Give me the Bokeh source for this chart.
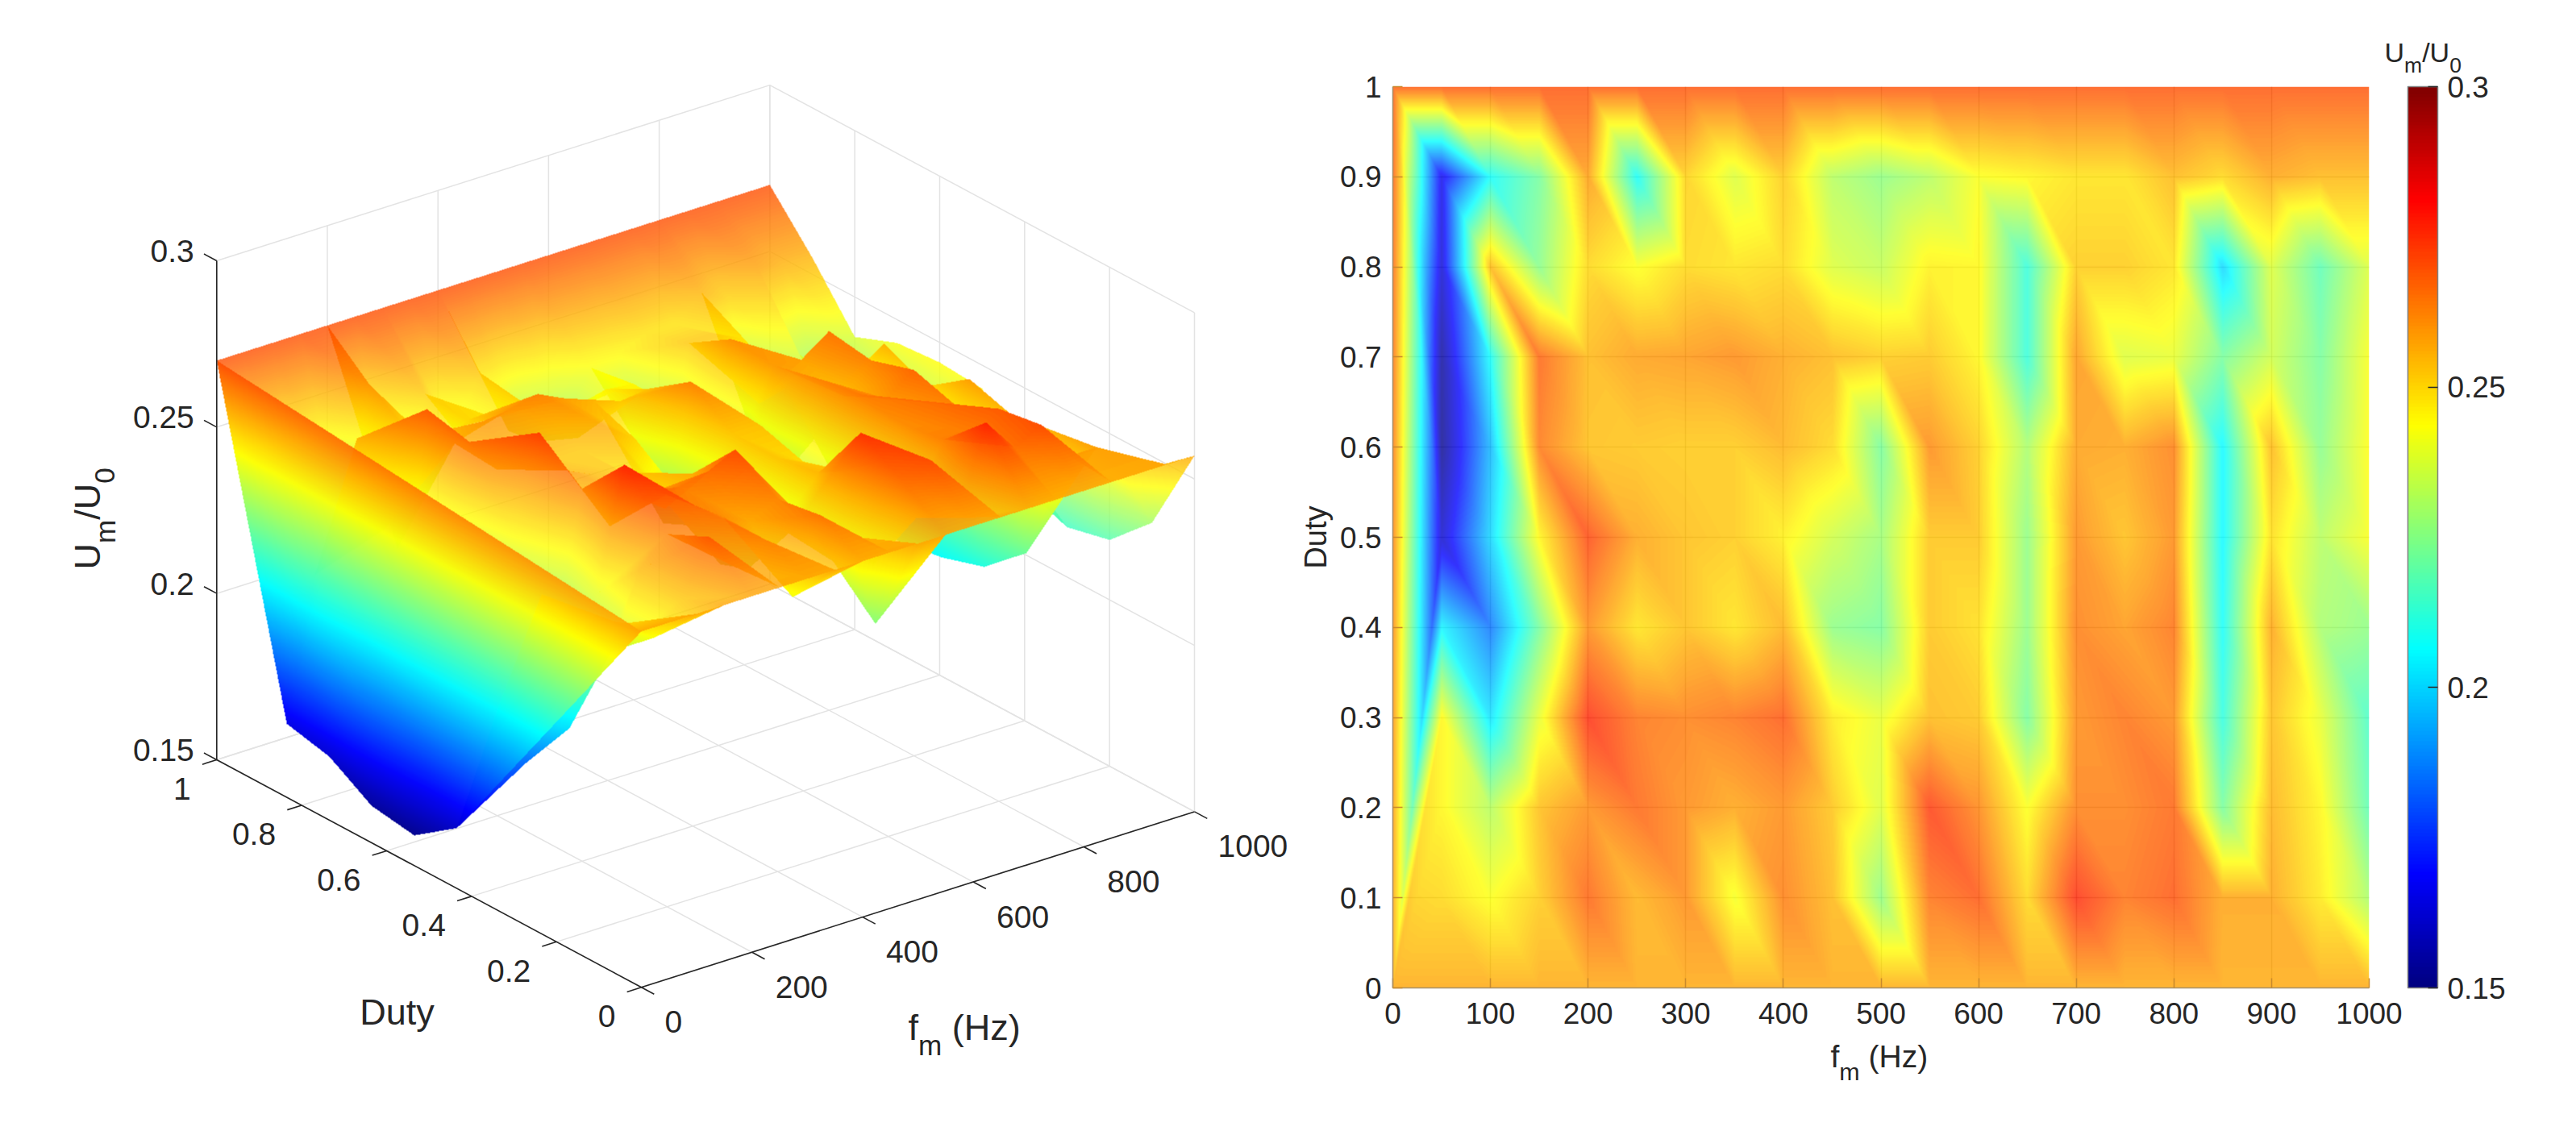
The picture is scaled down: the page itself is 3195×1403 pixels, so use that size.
# Um/U0 against modulation frequency and duty: 3D surface on the left, flat map on the right

import math
import numpy as np

from bokeh.embed import file_html
from bokeh.layouts import row
from bokeh.models import ColorBar, FixedTicker, Label, LinearColorMapper, Range1d
from bokeh.plotting import figure
from bokeh.resources import INLINE

# values
fm_hz = [50, 100, 150, 200, 250, 300, 350, 400, 450, 500,
         550, 600, 650, 700, 750, 800, 850, 900, 950, 1000]
duty = [0.0, 0.1, 0.2, 0.3, 0.4, 0.5, 0.6, 0.7, 0.8, 0.9, 1.0]

# at 0 Hz only the two corners exist
um_fm0_duty0 = 0.257
um_fm0_duty1 = 0.270

um_duty00 = [.257, .257, .257, .257, .257, .257, .257, .257, .257, .257,
             .257, .257, .257, .257, .257, .257, .257, .257, .257, .257]
um_duty01 = [.250, .243, .252, .268, .256, .262, .242, .264, .255, .226,
             .266, .270, .250, .276, .266, .270, .258, .258, .247, .230]
um_duty02 = [.245, .232, .254, .262, .268, .262, .258, .262, .253, .238,
             .274, .263, .243, .264, .264, .268, .222, .256, .245, .218]
um_duty03 = [.245, .202, .240, .276, .266, .264, .266, .270, .247, .240,
             .255, .253, .222, .262, .266, .262, .211, .254, .240, .215]
um_duty04 = [.205, .185, .222, .262, .248, .254, .248, .256, .226, .222,
             .253, .249, .226, .264, .260, .266, .207, .258, .230, .226]
um_duty05 = [.161, .200, .245, .272, .258, .254, .252, .246, .236, .228,
             .253, .253, .226, .262, .254, .262, .205, .249, .232, .243]
um_duty06 = [.152, .195, .265, .254, .253, .252, .252, .256, .250, .222,
             .262, .252, .230, .259, .258, .264, .205, .255, .225, .244]
um_duty07 = [.154, .207, .268, .255, .259, .260, .262, .258, .255, .252,
             .253, .245, .212, .260, .238, .240, .222, .236, .222, .243]
um_duty08 = [.162, .255, .225, .250, .243, .250, .248, .250, .238, .234,
             .246, .245, .212, .252, .252, .248, .200, .238, .218, .238]
um_duty09 = [.165, .207, .222, .259, .207, .251, .238, .252, .232, .226,
             .232, .243, .245, .248, .248, .255, .250, .258, .255, .255]
um_duty10 = [.270, .270, .270, .270, .270, .270, .270, .270, .270, .270,
             .270, .270, .270, .270, .270, .270, .270, .270, .270, .270]

map_fm_ticks = [0, 100, 200, 300, 400, 500, 600, 700, 800, 900, 1000]
map_duty_ticks = [0, 0.1, 0.2, 0.3, 0.4, 0.5, 0.6, 0.7, 0.8, 0.9, 1]
map_duty_labels = ["0", "0.1", "0.2", "0.3", "0.4", "0.5", "0.6", "0.7", "0.8", "0.9", "1"]
surf_fm_ticks = [0, 200, 400, 600, 800, 1000]
surf_duty_ticks = [0, 0.2, 0.4, 0.6, 0.8, 1]
surf_duty_labels = ["0", "0.2", "0.4", "0.6", "0.8", "1"]
um_ticks = [0.15, 0.2, 0.25, 0.3]
um_labels = ["0.15", "0.2", "0.25", "0.3"]

UM_LOW, UM_HIGH = 0.15, 0.3
ALPHA = 0.8
ALPHA_OVER = 0.9  # a facet over another facet hides it almost fully in the original
TEXT = "#262626"
FONT = "Liberation Sans"
PAGE_H = 1387

# jet colormap, same look as the original
jet_pos = [0, 0.125, 0.375, 0.625, 0.875, 1]
t = np.linspace(0, 1, 256)
jet = np.stack([np.interp(t, jet_pos, [0, 0, 0, 1, 1, 0.5]),
                np.interp(t, jet_pos, [0, 0, 1, 1, 0, 0]),
                np.interp(t, jet_pos, [0.5, 1, 1, 0, 0, 0])], axis=1)
jet_hex = ["#%02x%02x%02x" % tuple(int(round(c * 255)) for c in rgb) for rgb in jet]

# build the triangles, every quad is cut along the same diagonal
rows = [um_duty00, um_duty01, um_duty02, um_duty03, um_duty04, um_duty05,
        um_duty06, um_duty07, um_duty08, um_duty09, um_duty10]
tris = []
for i in range(len(fm_hz) - 1):
    for j in range(len(duty) - 1):
        a = (fm_hz[i], duty[j], rows[j][i])
        b = (fm_hz[i + 1], duty[j], rows[j][i + 1])
        c = (fm_hz[i + 1], duty[j + 1], rows[j + 1][i + 1])
        d = (fm_hz[i], duty[j + 1], rows[j + 1][i])
        tris.append((a, b, d))
        tris.append((b, c, d))
corner0 = (0, 0.0, um_fm0_duty0)
corner1 = (0, 1.0, um_fm0_duty1)
for j in range(len(duty) - 1):
    fan = corner0 if j < 5 else corner1
    tris.append((fan, (fm_hz[0], duty[j], rows[j][0]), (fm_hz[0], duty[j + 1], rows[j + 1][0])))
tris.append((corner0, corner1, (fm_hz[0], duty[5], rows[5][0])))


def tri_pixels(xs, ys, vals):
    # pixels of one triangle and the shaded value at each of them
    x0, x1 = int(math.floor(min(xs))), int(math.ceil(max(xs)))
    y0, y1 = int(math.floor(min(ys))), int(math.ceil(max(ys)))
    gx, gy = np.meshgrid(np.arange(x0, x1 + 1), np.arange(y0, y1 + 1))
    px, py = gx + 0.5, gy + 0.5
    det = (ys[1] - ys[2]) * (xs[0] - xs[2]) + (xs[2] - xs[1]) * (ys[0] - ys[2])
    if abs(det) < 1e-9:
        return gx[:0], gy[:0], px[:0]
    w0 = ((ys[1] - ys[2]) * (px - xs[2]) + (xs[2] - xs[1]) * (py - ys[2])) / det
    w1 = ((ys[2] - ys[0]) * (px - xs[2]) + (xs[0] - xs[2]) * (py - ys[2])) / det
    w2 = 1 - w0 - w1
    inside = (w0 >= -1e-6) & (w1 >= -1e-6) & (w2 >= -1e-6)
    v = w0 * vals[0] + w1 * vals[1] + w2 * vals[2]
    return gx[inside], gy[inside], v[inside]


# ---- 3D surface, fixed view, page pixels are the data units of this figure
LEFT_W = 1608
FM_DX, FM_DY = 686, -217.9
DU_DX, DU_DY = -526.7, -282.3
Z_DY = -619
ORG_X, ORG_Y = 795, 1224.3


def project(fm, du, um):
    x = ORG_X + fm / 1000 * FM_DX + du * DU_DX
    py = ORG_Y + fm / 1000 * FM_DY + du * DU_DY + (um - UM_LOW) / (UM_HIGH - UM_LOW) * Z_DY
    return x, PAGE_H - py


def depth(fm, du, um):
    # larger is further from the viewer
    return (fm / 1000 * 0.609 + du * 0.793) * 0.911 - (um - UM_LOW) / (UM_HIGH - UM_LOW) * 0.325


p3d = figure(width=LEFT_W, height=PAGE_H, output_backend="svg", toolbar_location=None,
             x_range=Range1d(0, LEFT_W), y_range=Range1d(0, PAGE_H),
             min_border=0, outline_line_color=None, frame_align=False)
p3d.axis.visible = False
p3d.grid.visible = False

GRID = "#e3e3e3"
# floor and the two back walls
for f in surf_fm_ticks:
    pts = [project(f, 0, UM_LOW), project(f, 1, UM_LOW), project(f, 1, UM_HIGH)]
    p3d.line([q[0] for q in pts], [q[1] for q in pts], line_color=GRID, line_width=1.5)
for du in surf_duty_ticks:
    pts = [project(0, du, UM_LOW), project(1000, du, UM_LOW), project(1000, du, UM_HIGH)]
    p3d.line([q[0] for q in pts], [q[1] for q in pts], line_color=GRID, line_width=1.5)
for um in um_ticks:
    pts = [project(0, 1, um), project(1000, 1, um), project(1000, 0, um)]
    p3d.line([q[0] for q in pts], [q[1] for q in pts], line_color=GRID, line_width=1.5)

# shade per pixel, far fragments first, so facets cross correctly and show no seams
projected = [[project(*v) for v in tri] for tri in tris]
all_x = [q[0] for tri in projected for q in tri]
all_y = [q[1] for tri in projected for q in tri]
box_x, box_y = int(min(all_x)) - 2, int(min(all_y)) - 2
box_w, box_h = int(max(all_x)) + 3 - box_x, int(max(all_y)) + 3 - box_y
frag_pixel, frag_val, frag_depth = [], [], []
for tri, pts in zip(tris, projected):
    xs = [q[0] - box_x for q in pts]
    ys = [q[1] - box_y for q in pts]
    gx, gy, v = tri_pixels(xs, ys, [q[2] for q in tri])
    _, _, dep = tri_pixels(xs, ys, [depth(*q) for q in tri])
    keep = (gx >= 0) & (gx < box_w) & (gy >= 0) & (gy < box_h)
    frag_pixel.append(gy[keep] * box_w + gx[keep])
    frag_val.append(v[keep])
    frag_depth.append(dep[keep])
frag_pixel = np.concatenate(frag_pixel)
frag_val = np.concatenate(frag_val)
frag_depth = np.concatenate(frag_depth)
order = np.lexsort((-frag_depth, frag_pixel))
frag_pixel, frag_val = frag_pixel[order], frag_val[order]
starts = np.r_[True, frag_pixel[1:] != frag_pixel[:-1]]
group_start = np.maximum.accumulate(np.where(starts, np.arange(len(frag_pixel)), 0))
rank = np.arange(len(frag_pixel)) - group_start

premult = np.zeros((box_h * box_w, 4))
for r in range(rank.max() + 1):
    sel = rank == r
    pix = frag_pixel[sel]
    idx = np.clip(((frag_val[sel] - UM_LOW) / (UM_HIGH - UM_LOW) * 255).round().astype(int), 0, 255)
    layer = ALPHA if r == 0 else ALPHA_OVER
    premult[pix, :3] = jet[idx] * layer + premult[pix, :3] * (1 - layer)
    premult[pix, 3] = layer + premult[pix, 3] * (1 - layer)
premult = premult.reshape(box_h, box_w, 4)

a = premult[..., 3:4]
rgb = np.where(a > 0, premult[..., :3] / np.maximum(a, 1e-6), 0)
rgba = np.concatenate([rgb, a], axis=2)
rgba8 = (rgba * 255).round().astype(np.uint8)
p3d.image_rgba(image=[rgba8.view(dtype=np.uint32).reshape(box_h, box_w)],
               x=box_x, y=box_y, dw=box_w, dh=box_h)

# axes lines and ticks
AX_W = 1.6
pts = [project(0, 1, UM_LOW), project(0, 0, UM_LOW), project(1000, 0, UM_LOW)]
p3d.line([q[0] for q in pts], [q[1] for q in pts], line_color=TEXT, line_width=AX_W)
pts = [project(0, 1, UM_LOW), project(0, 1, UM_HIGH)]
p3d.line([q[0] for q in pts], [q[1] for q in pts], line_color=TEXT, line_width=AX_W)
for f in surf_fm_ticks:
    pts = [project(f, 0, UM_LOW), project(f, -0.03, UM_LOW)]
    p3d.line([q[0] for q in pts], [q[1] for q in pts], line_color=TEXT, line_width=AX_W)
for du in surf_duty_ticks:
    pts = [project(0, du, UM_LOW), project(-26, du, UM_LOW)]
    p3d.line([q[0] for q in pts], [q[1] for q in pts], line_color=TEXT, line_width=AX_W)
for um in um_ticks:
    pts = [project(0, 1, um), project(0, 1.03, um)]
    p3d.line([q[0] for q in pts], [q[1] for q in pts], line_color=TEXT, line_width=AX_W)

EM = {"U": 0.722, "m": 0.833, "/": 0.278, "0": 0.556, "f": 0.278, " ": 0.278}
SUB_SIZE = 0.78
SUB_DROP = 0.48


def add_text(fig, x, y, text, size, align="left", base="alphabetic", angle=0.0, units="data", place="center"):
    label = Label(x=x, y=y, x_units=units, y_units=units, text=text, angle=angle,
                  text_font=FONT, text_font_size="%.1fpx" % size, text_color=TEXT,
                  text_align=align, text_baseline=base)
    fig.add_layout(label, place)


def add_sub_text(fig, x, y, parts, size, upright=True, units="data", down=1, place="center"):
    # parts are (text, is_subscript); down is the sign of a subscript drop on y
    for text, is_sub in parts:
        s = size * SUB_SIZE if is_sub else size
        adv = sum(EM.get(ch, 0.278) for ch in text) * s
        if text.strip():
            if upright:
                add_text(fig, x, y + down * (size * SUB_DROP if is_sub else 0), text, s, units=units, place=place)
            else:
                add_text(fig, x + (size * SUB_DROP if is_sub else 0), y, text, s,
                         angle=math.pi / 2, units=units, place=place)
        if upright:
            x += adv
        else:
            y += adv


TICK_3D = 39
for um, lab in zip(um_ticks, um_labels):
    x, y = project(0, 1, um)
    add_text(p3d, x - 28, y + 12, lab, TICK_3D, align="right", base="middle")
for du, lab in zip(surf_duty_ticks, surf_duty_labels):
    x, y = project(0, du, UM_LOW)
    add_text(p3d, x - 32, y - 36, lab, TICK_3D, align="right", base="middle")
for f in surf_fm_ticks:
    x, y = project(f, 0, UM_LOW)
    add_text(p3d, x + 29, y - 43, str(f), TICK_3D, align="left", base="middle")

add_text(p3d, 492, PAGE_H - 1255, "Duty", 45, align="center", base="middle")
add_sub_text(p3d, 1126, PAGE_H - 1274, [("f", False), ("m", True), (" ", False), ("(Hz)", False)], 45, down=-1)
add_sub_text(p3d, 108, PAGE_H - 706,
             [("U", False), ("m", True), ("/U", False), ("0", True)], 45, upright=False)

# ---- flat map with colour bar
MAP_LEFT = 118
MAP_TOP = 107
MAP_W, MAP_H = 1212, 1118
RIGHT_W = 1579
TICK_2D = 37

pmap = figure(width=RIGHT_W, height=PAGE_H, output_backend="svg", toolbar_location=None,
              x_range=Range1d(0, 1000), y_range=Range1d(0, 1),
              min_border_left=MAP_LEFT, min_border_right=RIGHT_W - MAP_LEFT - MAP_W,
              min_border_top=MAP_TOP, min_border_bottom=PAGE_H - MAP_TOP - MAP_H,
              outline_line_color=None, frame_align=False)

values = np.full((MAP_H, MAP_W), np.nan)
for tri in tris:
    gx, gy, v = tri_pixels([q[0] / 1000 * MAP_W for q in tri], [q[1] * MAP_H for q in tri],
                           [q[2] for q in tri])
    keep = (gx >= 0) & (gx < MAP_W) & (gy >= 0) & (gy < MAP_H)
    values[gy[keep], gx[keep]] = v[keep]

mapper = LinearColorMapper(palette=jet_hex, low=UM_LOW, high=UM_HIGH)
pmap.image(image=[values], x=0, y=0, dw=1000, dh=1, color_mapper=mapper, global_alpha=ALPHA)

pmap.xaxis.ticker = FixedTicker(ticks=map_fm_ticks)
pmap.yaxis.ticker = FixedTicker(ticks=map_duty_ticks)
pmap.yaxis.major_label_overrides = dict(zip(map_duty_ticks, map_duty_labels))
for ax in (pmap.xaxis[0], pmap.yaxis[0]):
    ax.major_tick_in = 12
    ax.major_tick_out = 0
    ax.minor_tick_line_color = None
    ax.axis_line_color = "#a89068"
    ax.axis_line_width = 1.5
    ax.major_tick_line_color = "#c98a2c"
    ax.major_tick_line_width = 1.5
    ax.major_label_text_font = FONT
    ax.major_label_text_font_size = "%dpx" % TICK_2D
    ax.major_label_text_color = TEXT
pmap.xaxis.major_label_standoff = 18
pmap.yaxis.major_label_standoff = 14
pmap.yaxis.axis_label = "Duty"
pmap.yaxis.axis_label_text_font = FONT
pmap.yaxis.axis_label_text_font_size = "38px"
pmap.yaxis.axis_label_text_font_style = "normal"
pmap.yaxis.axis_label_text_color = TEXT
pmap.yaxis.axis_label_standoff = 6
pmap.xgrid.ticker = FixedTicker(ticks=map_fm_ticks)
pmap.ygrid.ticker = FixedTicker(ticks=map_duty_ticks)
pmap.grid.grid_line_color = "#262626"
pmap.grid.grid_line_alpha = 0.25
pmap.grid.grid_line_width = 1.5

bar = ColorBar(color_mapper=mapper, location=(MAP_W + 47, 0), width=37, height=MAP_H,
               padding=0, margin=0, background_fill_alpha=0, border_line_color=None,
               bar_line_color="#808080", bar_line_width=1.5,
               ticker=FixedTicker(ticks=um_ticks), major_label_overrides=dict(zip(um_ticks, um_labels)),
               major_tick_in=12, major_tick_line_color=TEXT, major_tick_line_width=1.5,
               minor_tick_line_color=None, label_standoff=12,
               major_label_text_font=FONT, major_label_text_font_size="%dpx" % TICK_2D,
               major_label_text_color=TEXT)
pmap.add_layout(bar)

# labels in the centre get clipped to the frame, so these sit in the empty right panel
# and use canvas units, counted from the top left of this figure
add_sub_text(pmap, 2270 - LEFT_W, 1310, [("f", False), ("m", True), (" ", False), ("(Hz)", False)], 39,
             units="canvas", place="right")
add_sub_text(pmap, 2957 - LEFT_W, 64, [("U", False), ("m", True), ("/U", False), ("0", True)], 34,
             units="canvas", place="right")

layout = row(p3d, pmap, spacing=0)
open("out.html", "w").write(file_html(layout, INLINE))
